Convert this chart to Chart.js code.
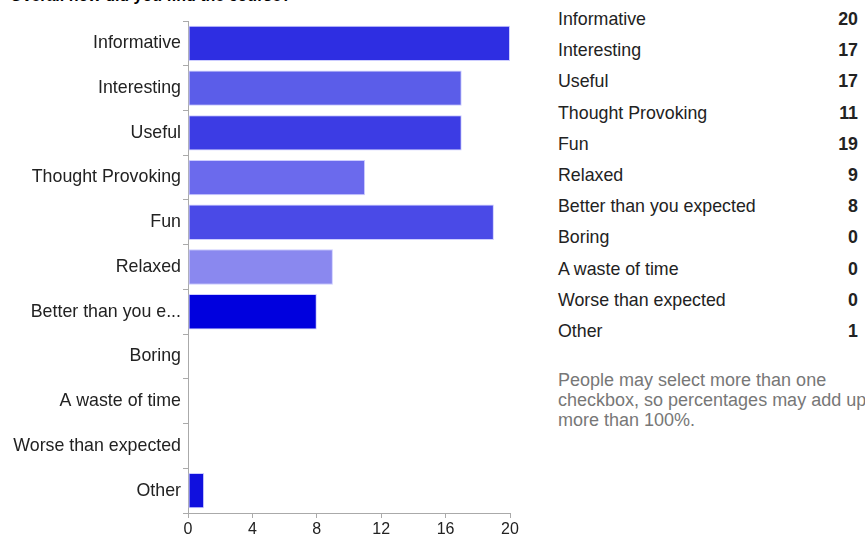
<!DOCTYPE html>
<html>
<head>
<meta charset="utf-8">
<script src="https://cdn.jsdelivr.net/npm/chart.js@4"></script>
<style>
  body { margin:0; background:#fff; width:865px; height:537px; overflow:hidden; position:relative; font-family:"Liberation Sans", Arial, sans-serif; }
  #title { position:absolute; left:10px; top:-13px; font-weight:bold; font-size:16px; color:#000; white-space:nowrap; }
  #wrap { position:absolute; left:0; top:0; width:530px; height:537px; }
  #tbl { position:absolute; left:558px; top:4px; width:300px; border-collapse:collapse; font-size:17.8px; color:#222; }
  #tbl td { height:31.2px; padding:0; vertical-align:middle; }
  #tbl td.n { text-align:right; font-weight:bold; }
  #note { position:absolute; left:558px; top:370px; font-size:18px; line-height:20px; color:#777; white-space:nowrap; }
</style>
</head>
<body>
<div id="title">Overall how did you find the course?</div>
<div id="wrap"><canvas id="c"></canvas></div>
<table id="tbl"></table>
<div id="note">People may select more than one<br>checkbox, so percentages may add up to<br>more than 100%.</div>
<script>
const categories = ['Informative','Interesting','Useful','Thought Provoking','Fun','Relaxed','Better than you expected','Boring','A waste of time','Worse than expected','Other'];
const counts = [20, 17, 17, 11, 19, 9, 8, 0, 0, 0, 1];
const xTicks = [0, 4, 8, 12, 16, 20];
const barColors = ['#2e2ee2','#5b5de9','#3c3ce4','#6b6aed','#4a4ae7','#8a88ef','#0000de','#2e2ee2','#2e2ee2','#2e2ee2','#1010de'];

// right-hand summary table
const tbl = document.getElementById('tbl');
categories.forEach((c, i) => {
  const tr = document.createElement('tr');
  tr.innerHTML = `<td>${c}</td><td class="n">${counts[i]}</td>`;
  tbl.appendChild(tr);
});

const shortLabel = s => s.length > 20 ? s.slice(0, 17) + '...' : s;

new Chart(document.getElementById('c'), {
  type: 'bar',
  data: {
    labels: categories,
    datasets: [{
      data: counts,
      backgroundColor: barColors,
      borderColor: 'rgba(200,200,255,0.9)',
      borderWidth: ctx => ctx.raw ? 1 : 0,
      borderSkipped: false,
      categoryPercentage: 0.79,
      barPercentage: 1
    }]
  },
  options: {
    indexAxis: 'y',
    responsive: true,
    maintainAspectRatio: false,
    animation: false,
    layout: { padding: { top: 21, right: 20, left: 0, bottom: 0 } },
    plugins: { legend: { display:false }, tooltip: { enabled:false } },
    scales: {
      x: {
        min: 0, max: 20,
        afterBuildTicks: s => { s.ticks = xTicks.map(v => ({ value: v })); },
        afterFit: s => { s.height = 24; },
        grid: { drawOnChartArea:false, drawTicks:true, tickLength:5, color:'#aaa' },
        border: { color:'#aaa' },
        ticks: { color:'#222', padding:2, font:{ family:'"Liberation Sans", Arial', size:16 } }
      },
      y: {
        afterFit: s => { s.width = 188; },
        grid: { drawOnChartArea:false, drawTicks:true, tickLength:5, color:'#aaa' },
        border: { color:'#aaa' },
        ticks: {
          color:'#222', padding:2, autoSkip:false,
          font:{ family:'"Liberation Sans", Arial', size:17.8 },
          callback: function(v) { return shortLabel(this.getLabelForValue(v)); }
        }
      }
    }
  }
});
</script>
</body>
</html>
